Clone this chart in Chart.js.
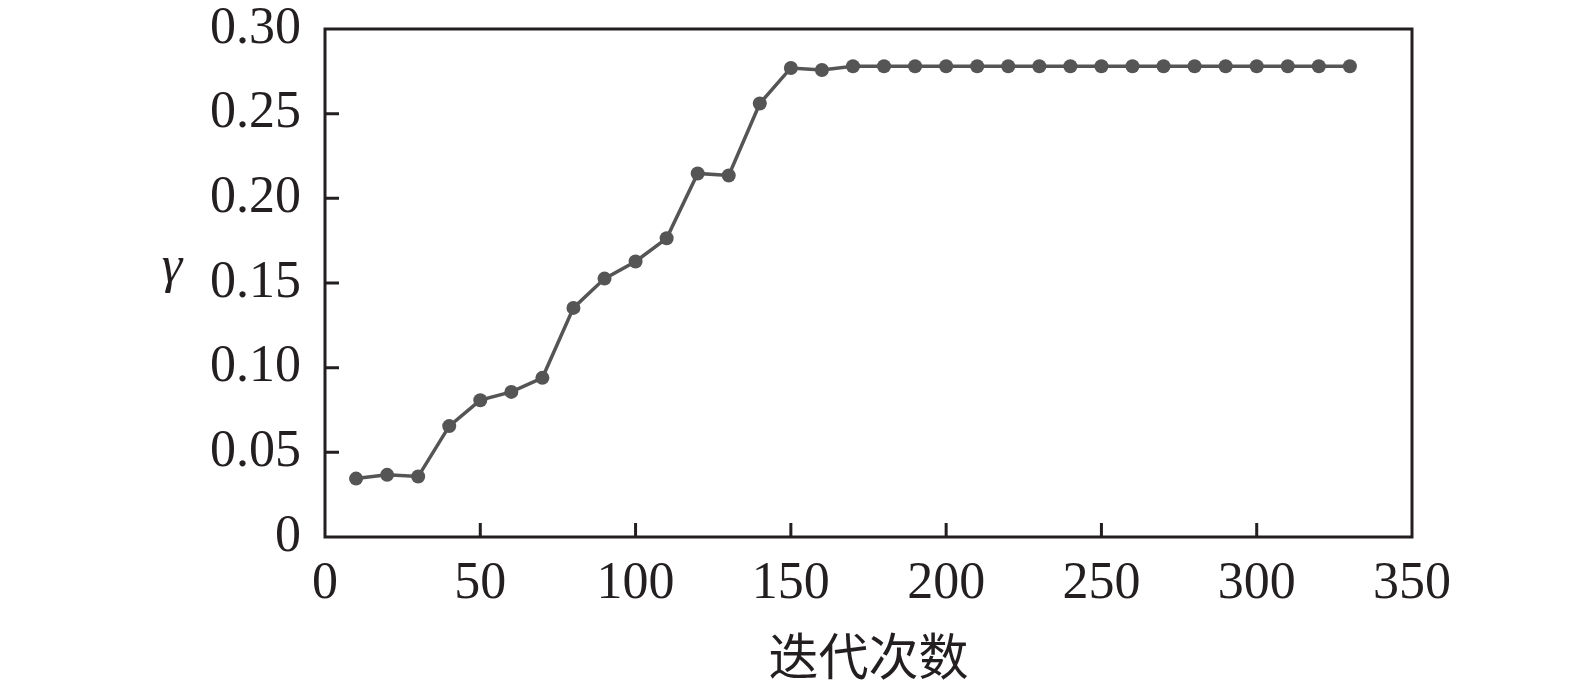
<!DOCTYPE html>
<html>
<head>
<meta charset="utf-8">
<script src="https://cdn.jsdelivr.net/npm/chart.js@4"></script>
<style>
  html, body { margin: 0; padding: 0; background: #fff; }
  canvas { display: block; }
</style>
</head>
<body>
<canvas id="grafico" width="1575" height="680"></canvas>
<script>
// iterações e valores de gamma
const iteracoes = [10, 20, 30, 40, 50, 60, 70, 80, 90, 100, 110, 120, 130, 140, 150, 160, 170,
  180, 190, 200, 210, 220, 230, 240, 250, 260, 270, 280, 290, 300, 310, 320, 330];
const gamma = [0.0345, 0.0367, 0.0357, 0.0655, 0.0808, 0.0857, 0.094, 0.1353, 0.1526, 0.1627,
  0.1764, 0.2147, 0.2135, 0.256, 0.277, 0.2758, 0.278,
  0.278, 0.278, 0.278, 0.278, 0.278, 0.278, 0.278, 0.278, 0.278, 0.278, 0.278, 0.278, 0.278,
  0.278, 0.278, 0.278];
const xTicks = [0, 50, 100, 150, 200, 250, 300, 350];
const yTicks = [0, 0.05, 0.10, 0.15, 0.20, 0.25, 0.30];

const fonteSerif = '"Liberation Serif", "Times New Roman", serif';
const corEixo = '#231f20';
const corLinha = '#555555';

// moldura, ticks internos e o rótulo γ
const molduraPlugin = {
  id: 'moldura',
  afterDraw(chart) {
    const ctx = chart.ctx;
    const a = chart.chartArea;
    const sx = chart.scales.x, sy = chart.scales.y;
    ctx.save();
    ctx.strokeStyle = corEixo;
    ctx.lineWidth = 3;
    ctx.strokeRect(a.left, a.top, a.right - a.left, a.bottom - a.top);
    ctx.beginPath();
    xTicks.slice(1, -1).forEach(v => {
      const px = sx.getPixelForValue(v);
      ctx.moveTo(px, a.bottom);
      ctx.lineTo(px, a.bottom - 14);
    });
    yTicks.slice(1, -1).forEach(v => {
      const py = sy.getPixelForValue(v);
      ctx.moveTo(a.left, py);
      ctx.lineTo(a.left + 14, py);
    });
    ctx.stroke();
    ctx.fillStyle = corEixo;
    ctx.font = 'italic 52px ' + fonteSerif;
    ctx.textAlign = 'center';
    ctx.textBaseline = 'middle';
    ctx.fillText('γ', 172, 268);
    ctx.restore();
  }
};

const ctx = document.getElementById('grafico').getContext('2d');
new Chart(ctx, {
  type: 'line',
  data: {
    datasets: [{
      data: iteracoes.map((x, i) => ({ x: x, y: gamma[i] })),
      borderColor: corLinha,
      backgroundColor: corLinha,
      borderWidth: 3.5,
      pointRadius: 7,
      pointBorderWidth: 0,
      tension: 0
    }]
  },
  options: {
    responsive: false,
    animation: false,
    devicePixelRatio: 1,
    layout: { padding: { top: 29, right: 163, bottom: 0, left: 0 } },
    plugins: { legend: { display: false }, tooltip: { enabled: false } },
    scales: {
      x: {
        type: 'linear',
        min: 0,
        max: 350,
        afterBuildTicks: s => { s.ticks = xTicks.map(v => ({ value: v })); },
        afterFit: s => { s.height = 143; s.paddingLeft = 0; s.paddingRight = 0; },
        grid: { display: false, drawTicks: false },
        border: { display: false },
        ticks: {
          color: corEixo,
          padding: 16,
          maxRotation: 0,
          font: { family: fonteSerif, size: 52 },
          callback: v => String(v)
        },
        title: {
          display: true,
          text: '迭代次数',
          color: corEixo,
          padding: { top: 4, bottom: -6 },
          font: { family: '"Noto Sans CJK SC", serif', size: 50 }
        }
      },
      y: {
        min: 0,
        max: 0.30,
        afterBuildTicks: s => { s.ticks = yTicks.map(v => ({ value: v })); },
        afterFit: s => { s.width = 325; s.paddingTop = 0; s.paddingBottom = 0; },
        grid: { display: false, drawTicks: false },
        border: { display: false },
        ticks: {
          color: corEixo,
          padding: 24,
          font: { family: fonteSerif, size: 52 },
          callback: v => v === 0 ? '0' : v.toFixed(2)
        }
      }
    }
  },
  plugins: [molduraPlugin]
});
</script>
</body>
</html>
